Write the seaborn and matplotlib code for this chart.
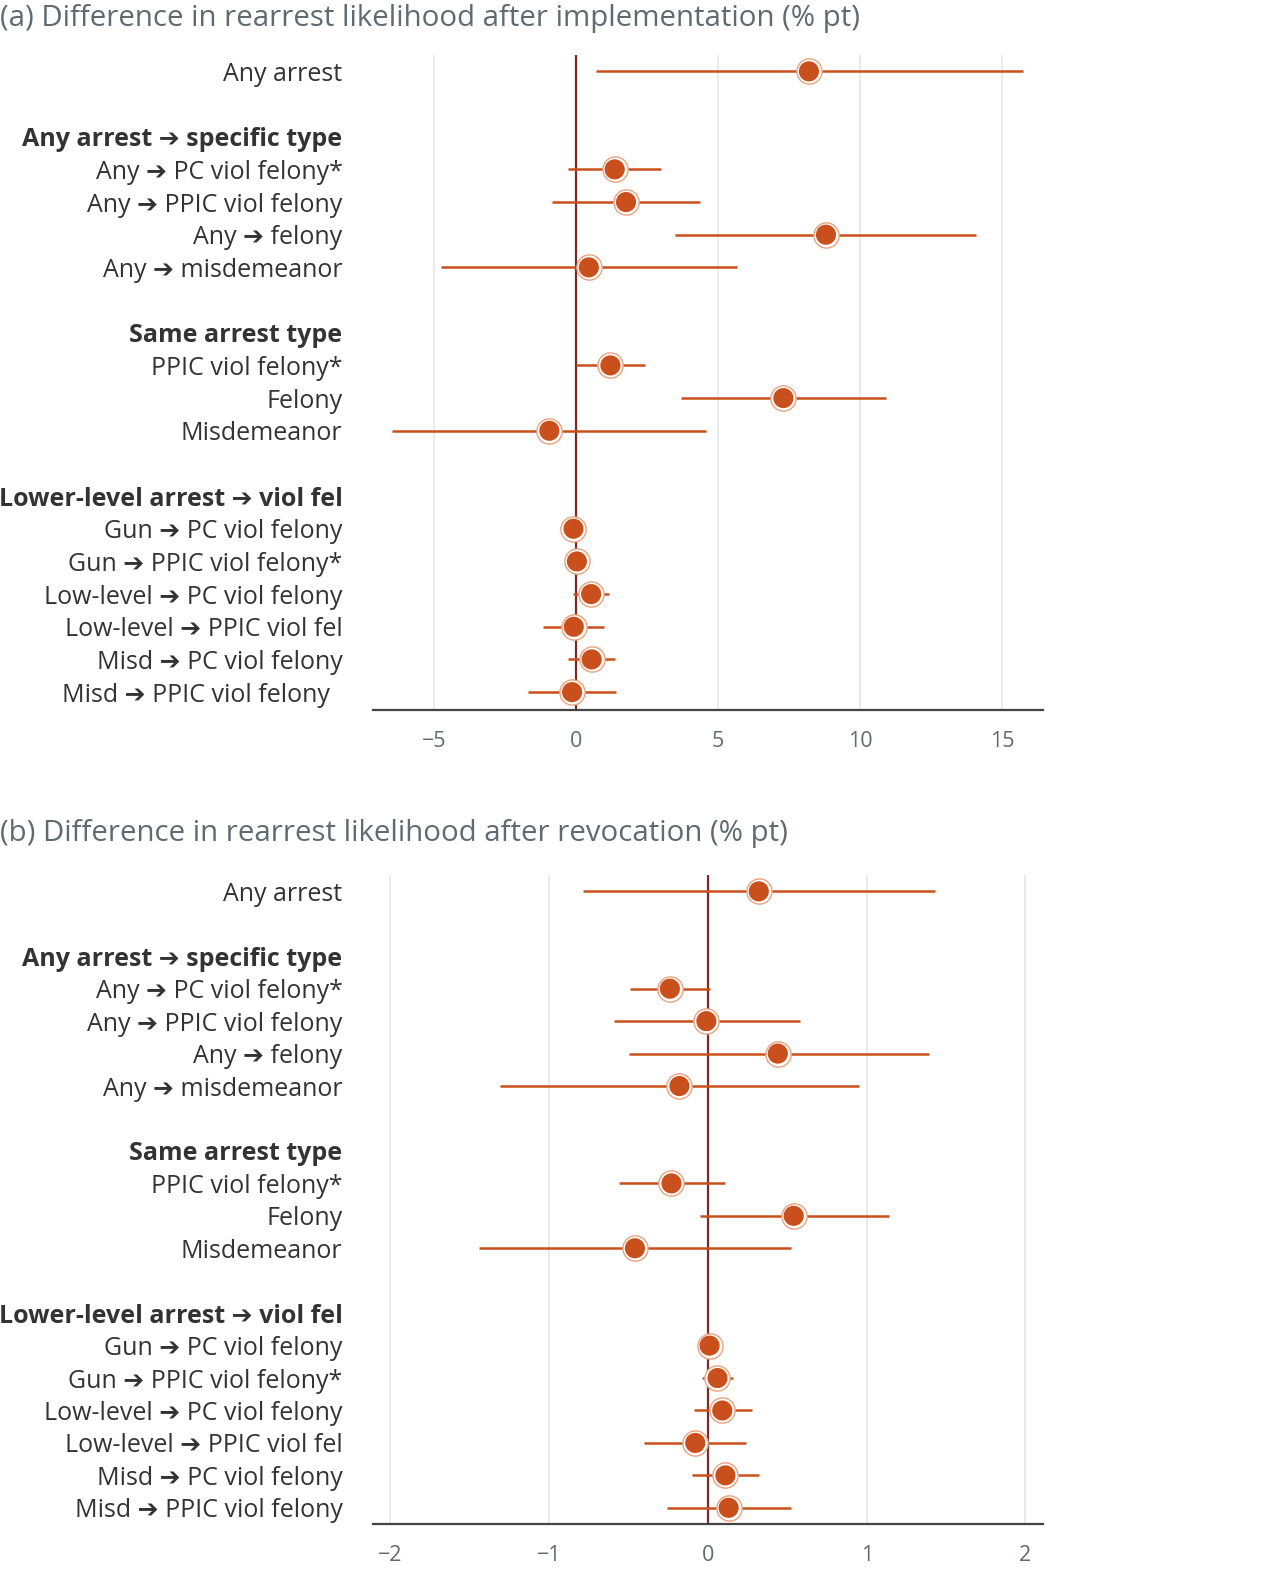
import numpy as np
import pandas as pd
import matplotlib
matplotlib.use("Agg")
import matplotlib.pyplot as plt
import seaborn as sns

# row labels (same for both panels); blank strings are spacer rows
labels = [
    "Any arrest", "",
    "Any arrest \u2794 specific type",
    "Any \u2794 PC viol felony*",
    "Any \u2794 PPIC viol felony",
    "Any \u2794 felony",
    "Any \u2794 misdemeanor", "",
    "Same arrest type",
    "PPIC viol felony*",
    "Felony",
    "Misdemeanor", "",
    "Lower-level arrest \u2794 viol fel",
    "Gun \u2794 PC viol felony",
    "Gun \u2794 PPIC viol felony*",
    "Low-level \u2794 PC viol felony",
    "Low-level \u2794 PPIC viol fel",
    "Misd \u2794 PC viol felony",
    "Misd \u2794 PPIC viol felony",
]
headers = ["Any arrest \u2794 specific type", "Same arrest type",
           "Lower-level arrest \u2794 viol fel"]
nan = np.nan

# (a) after implementation
est_a = [8.2, nan, nan, 1.36, 1.76, 8.8, 0.45, nan, nan, 1.21, 7.3, -0.94,
         nan, nan, -0.09, 0.03, 0.53, -0.08, 0.55, -0.14]
lo_a = [0.7, nan, nan, -0.27, -0.86, 3.5, -4.77, nan, nan, 0.0, 3.7, -6.48,
        nan, nan, -0.2, -0.08, -0.11, -1.17, -0.27, -1.7]
hi_a = [15.73, nan, nan, 2.98, 4.38, 14.09, 5.65, nan, nan, 2.42, 10.91, 4.59,
        nan, nan, 0.03, 0.14, 1.17, 1.0, 1.36, 1.42]

# (b) after revocation
est_b = [0.32, nan, nan, -0.24, -0.01, 0.44, -0.18, nan, nan, -0.23, 0.54, -0.46,
         nan, nan, 0.01, 0.06, 0.09, -0.08, 0.11, 0.13]
lo_b = [-0.79, nan, nan, -0.49, -0.59, -0.5, -1.31, nan, nan, -0.56, -0.05, -1.44,
        nan, nan, -0.02, -0.04, -0.09, -0.4, -0.1, -0.26]
hi_b = [1.43, nan, nan, 0.01, 0.58, 1.39, 0.95, nan, nan, 0.11, 1.14, 0.52,
        nan, nan, 0.04, 0.16, 0.28, 0.24, 0.32, 0.52]

ticks_a = [-5, 0, 5, 10, 15]
ticks_b = [-2, -1, 0, 1, 2]

ORANGE = "#c9501c"
RING = "#eaa27f"
ZERO = "#7b2b22"
GRID = "#e6e6e6"
TXT = "#333333"
GREY = "#5f6a72"

sns.set_theme(style="white")
plt.rcParams["font.family"] = ["Open Sans", "DejaVu Sans"]


def draw_panel(ax, est, lo, hi, ticks, xlim, ylim, last_label):
    df = pd.DataFrame({"pos": np.arange(len(labels)), "est": est, "lo": lo, "hi": hi})
    pts = df.dropna()
    for t in ticks:
        if t != 0:
            ax.axvline(t, color=GRID, lw=1.2, zorder=0)
    ax.axvline(0, color=ZERO, lw=1.6, zorder=1)
    ax.hlines(pts["pos"], pts["lo"], pts["hi"], color=ORANGE, lw=1.8, zorder=2)
    sns.scatterplot(data=pts, x="est", y="pos", ax=ax, s=330, color="white",
                    edgecolor=RING, linewidth=1.0, zorder=3, legend=False)
    sns.scatterplot(data=pts, x="est", y="pos", ax=ax, s=210, color=ORANGE,
                    edgecolor="none", linewidth=0, zorder=4, legend=False)
    ax.set_xlim(*xlim)
    ax.set_ylim(*ylim)
    ax.set_xticks(ticks)
    ax.set_xticklabels(["\u2212" + str(-t) if t < 0 else str(t) for t in ticks])
    labs = list(labels)
    labs[-1] = last_label
    ax.set_yticks(np.arange(len(labels)))
    ax.set_yticklabels(labs)
    for tl in ax.get_yticklabels():
        tl.set_fontsize(18)
        tl.set_color(TXT)
        if tl.get_text() in headers:
            tl.set_fontweight("bold")
    ax.tick_params(axis="y", length=0, pad=22)
    ax.tick_params(axis="x", length=0, pad=15, labelsize=15.5, labelcolor=GREY)
    for s in ["top", "right", "left"]:
        ax.spines[s].set_visible(False)
    ax.spines["bottom"].set_color("#444444")
    ax.spines["bottom"].set_linewidth(1.6)
    ax.set_xlabel("")
    ax.set_ylabel("")


fig = plt.figure(figsize=(12.8, 15.72), dpi=100)
ax_a = fig.add_axes([0.2914, 0.5483, 0.5234, 0.4167])
ax_b = fig.add_axes([0.2914, 0.0305, 0.5234, 0.4128])

draw_panel(ax_a, est_a, lo_a, hi_a, ticks_a, (-7.15, 16.44), (19.55, -0.5),
           "Misd \u2794 PPIC viol felony  ")
draw_panel(ax_b, est_b, lo_b, hi_b, ticks_b, (-2.11, 2.11), (19.5, -0.5),
           "Misd \u2794 PPIC viol felony")

fig.text(0.0, 0.9885, "(a) Difference in rearrest likelihood after implementation (% pt)",
         fontsize=21.2, color=GREY, va="center", ha="left")
fig.text(0.0, 0.4695, "(b) Difference in rearrest likelihood after revocation (% pt)",
         fontsize=21.2, color=GREY, va="center", ha="left")

fig.savefig("out.png", dpi=100)
